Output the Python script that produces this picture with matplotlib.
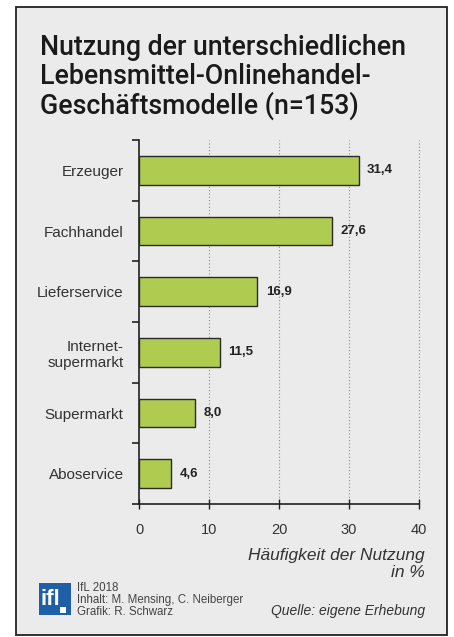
import matplotlib
matplotlib.use("Agg")
import matplotlib.pyplot as plt
from matplotlib.patches import Rectangle
import numpy as np

plt.rcParams["font.family"] = ["Liberation Sans", "DejaVu Sans"]

categories = ["Erzeuger", "Fachhandel", "Lieferservice", "Internet-\nsupermarkt", "Supermarkt", "Aboservice"]
values = [31.4, 27.6, 16.9, 11.5, 8.0, 4.6]
xticks = [0, 10, 20, 30, 40]

W, H = 454, 637
fig = plt.figure(figsize=(W / 100, H / 100), dpi=100)
fig.patch.set_facecolor("white")

# frame with grey background
fig.patches.append(Rectangle((16 / W, 1 - 635 / H), (447 - 16) / W, (635 - 7) / H,
                             transform=fig.transFigure, facecolor="#ebebeb",
                             edgecolor="#222222", linewidth=1.3, zorder=-5))

ax = fig.add_axes([139 / W, 1 - 504 / H, 280 / W, (504 - 140) / H])
ax.set_facecolor("none")
ax.set_zorder(2)

y = np.arange(len(categories))
ax.barh(y, values, height=0.47, color="#afcb50", edgecolor="#2a2a2a", linewidth=1.0, zorder=3)
for yi, v in zip(y, values):
    ax.annotate(f"{v:.1f}".replace(".", ","), (v, yi), xytext=(6, 0), textcoords="offset points",
                va="center", ha="left", fontsize=9.5, fontweight="bold", color="#222222")

ax.set_xlim(0, 40)
ax.set_ylim(len(categories) - 0.5, -0.5)
ax.set_xticks(xticks)
ax.set_xticklabels([str(t) for t in xticks], fontsize=10.5, color="#333333")
ax.tick_params(axis="x", direction="inout", length=7, width=1, pad=10, color="#222222")

ax.set_yticks(y)
ax.set_yticklabels(categories, fontsize=11, color="#333333", multialignment="right")
ax.tick_params(axis="y", which="major", length=0, pad=11)
ax.set_yticks(np.arange(-0.5, len(categories)), minor=True)
ax.tick_params(axis="y", which="minor", direction="out", length=5, width=1.2, color="#222222")

for t in xticks[1:]:
    ax.axvline(t, color="#888888", linestyle=(0, (1, 2)), linewidth=0.8, zorder=1, clip_on=False)

for s in ["top", "right"]:
    ax.spines[s].set_visible(False)
for s in ["left", "bottom"]:
    ax.spines[s].set_color("#222222")
    ax.spines[s].set_linewidth(1.2)

# title
fig.text(40 / W, 1 - 34 / H, "Nutzung der unterschiedlichen\nLebensmittel-Onlinehandel-\nGeschäftsmodelle (n=153)",
         ha="left", va="top", fontsize=19.3, family="Roboto", fontweight="medium", color="#1a1a1a",
         linespacing=1.09)

# axis label
fig.text(425 / W, 1 - 577 / H, "Häufigkeit der Nutzung\nin %", ha="right", va="baseline",
         fontsize=12.5, style="italic", color="#333333", multialignment="right", linespacing=1.15)

# logo
fig.patches.append(Rectangle((39 / W, 1 - 615 / H), 32 / W, 32 / H, transform=fig.transFigure,
                             facecolor="#1f5fa8", edgecolor="none", zorder=2))
fig.text(41 / W, 1 - 605 / H, "ifl", ha="left", va="baseline", fontsize=16, fontweight="bold",
         color="white", zorder=3)
fig.patches.append(Rectangle((60 / W, 1 - 613 / H), 6 / W, 6 / H, transform=fig.transFigure,
                             facecolor="white", edgecolor="none", zorder=3))

fig.text(77 / W, 1 - 615 / H, "IfL 2018\nInhalt: M. Mensing, C. Neiberger\nGrafik: R. Schwarz",
         ha="left", va="baseline", fontsize=8.3, color="#444444", linespacing=1.0)
fig.text(425 / W, 1 - 615 / H, "Quelle: eigene Erhebung", ha="right", va="baseline",
         fontsize=10, style="italic", color="#333333")

fig.savefig("out.png", dpi=100)
